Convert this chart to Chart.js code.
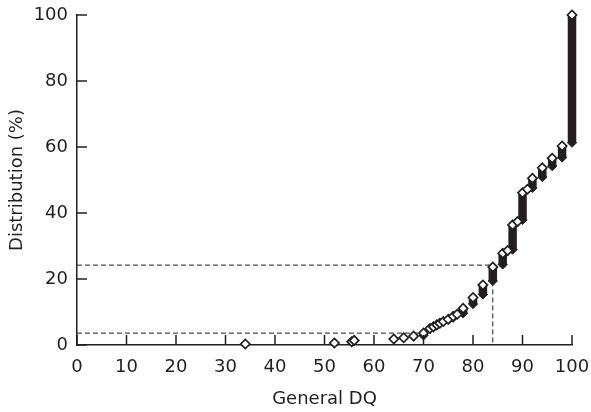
<!DOCTYPE html>
<html>
<head>
<meta charset="utf-8">
<script src="https://cdn.jsdelivr.net/npm/chart.js@4"></script>
<style>
  html, body { margin: 0; padding: 0; background: #fff; }
  #wrap { width: 591px; height: 412px; }
</style>
</head>
<body>
<div id="wrap"><canvas id="chart"></canvas></div>
<script>
// General DQ value of each stack of markers, with the lowest and highest
// cumulative percentage reached at that DQ (equal when only one child)
const dqValues = [34, 52, 55.5, 56, 64, 66, 68, 70, 71.3, 72, 72.7, 73.3, 74, 75, 76, 76.8, 78,
                  80, 82, 84, 86, 87, 88, 89, 90, 91, 92, 94, 96, 98, 100];
const pctLow   = [0.3, 0.6, 1.0, 1.4, 1.8, 2.2, 2.7, 2.9, 5.0, 5.5, 6.1, 6.6, 7.1, 7.6, 8.3, 9.3, 9.6,
                  12.4, 15.3, 19.4, 24.4, 28.6, 28.9, 37.4, 37.9, 47.2, 47.6, 50.9, 54.2, 56.8, 61.3];
const pctHigh  = [0.3, 0.6, 1.0, 1.4, 1.8, 2.2, 2.7, 3.6, 5.0, 5.5, 6.1, 6.6, 7.1, 7.8, 8.7, 9.3, 11.1,
                  14.4, 18.2, 23.6, 27.8, 28.6, 36.4, 37.4, 46.1, 47.2, 50.5, 53.7, 56.6, 60.3, 100];

// dashed reference lines: DQ cut-off and the percentage reached there
const refDQ  = [84, 70];
const refPct = [24.2, 3.6];

const xTicks = [0, 10, 20, 30, 40, 50, 60, 70, 80, 90, 100];
const yTicks = [0, 20, 40, 60, 80, 100];

const ink = '#231f20';
const font = { family: 'DejaVu Sans', size: 18 };

const topPts = dqValues.map((x, i) => ({ x: x, y: pctHigh[i] }));
const lowPts = dqValues.map((x, i) => ({ x: x, y: pctLow[i] }));

// vertical stacks drawn as thick segments, separated by gaps
const stackPts = [];
dqValues.forEach((x, i) => {
    if (pctHigh[i] > pctLow[i]) {
        stackPts.push({ x: x, y: pctLow[i] }, { x: x, y: pctHigh[i] }, { x: x, y: null });
    }
});

const refSets = refDQ.map((x, i) => ({
    type: 'line',
    data: i === 0
        ? [{ x: 0, y: refPct[i] }, { x: x, y: refPct[i] }, { x: x, y: 0 }]
        : [{ x: 0, y: refPct[i] }, { x: x, y: refPct[i] }],
    borderColor: ink,
    borderWidth: 1,
    borderDash: [5, 3],
    pointRadius: 0,
    fill: false,
    tension: 0
}));

// ticks pointing into the plot
const innerTicks = {
    id: 'innerTicks',
    afterDraw(chart) {
        const { ctx, scales: { x, y } } = chart;
        ctx.save();
        ctx.strokeStyle = ink;
        ctx.lineWidth = 1.5;
        ctx.beginPath();
        xTicks.forEach(v => {
            const px = x.getPixelForValue(v);
            ctx.moveTo(px, y.bottom);
            ctx.lineTo(px, y.bottom - 10);
        });
        yTicks.forEach(v => {
            const py = y.getPixelForValue(v);
            ctx.moveTo(x.left, py);
            ctx.lineTo(x.left + 10, py);
        });
        ctx.stroke();
        ctx.restore();
    }
};

const options = {
    type: 'scatter',
    data: {
        datasets: [
            {
                label: 'top',
                data: topPts,
                pointStyle: 'rectRot',
                pointRadius: 4.6,
                pointBackgroundColor: '#fff',
                pointBorderColor: ink,
                pointBorderWidth: 1.7,
                clip: false
            },
            {
                label: 'low',
                data: lowPts,
                pointStyle: 'rectRot',
                pointRadius: 4.6,
                pointBackgroundColor: ink,
                pointBorderColor: ink,
                pointBorderWidth: 1,
                clip: false
            },
            {
                type: 'line',
                label: 'stack',
                data: stackPts,
                borderColor: ink,
                borderWidth: 8.5,
                borderCapStyle: 'butt',
                pointRadius: 0,
                spanGaps: false,
                fill: false,
                clip: false
            },
            ...refSets
        ]
    },
    options: {
        responsive: true,
        maintainAspectRatio: false,
        animation: false,
        layout: { padding: { left: 0, right: 19, top: 15, bottom: 0 } },
        plugins: { legend: { display: false }, tooltip: { enabled: false } },
        scales: {
            x: {
                type: 'linear',
                min: 0,
                max: 100,
                afterBuildTicks: s => { s.ticks = xTicks.map(v => ({ value: v })); },
                afterFit: s => { s.height = 67; s.paddingLeft = 0; s.paddingRight = 0; },
                grid: { display: false, drawTicks: false },
                border: { display: true, color: ink, width: 1.5 },
                ticks: { color: ink, font: font, padding: 12, maxRotation: 0 },
                title: {
                    display: true,
                    text: 'General DQ',
                    color: ink,
                    font: font,
                    padding: { top: 2, bottom: 2 }
                }
            },
            y: {
                type: 'linear',
                min: 0,
                max: 100,
                afterBuildTicks: s => { s.ticks = yTicks.map(v => ({ value: v })); },
                afterFit: s => { s.width = 77; s.paddingTop = 0; s.paddingBottom = 0; },
                grid: { display: false, drawTicks: false },
                border: { display: true, color: ink, width: 1.5 },
                ticks: { color: ink, font: font, padding: 9 },
                title: {
                    display: true,
                    text: 'Distribution (%)',
                    color: ink,
                    font: font,
                    padding: { top: 7, bottom: 7 }
                }
            }
        }
    },
    plugins: [innerTicks]
};

const ctx = document.getElementById('chart').getContext('2d');
new Chart(ctx, options);
</script>
</body>
</html>
